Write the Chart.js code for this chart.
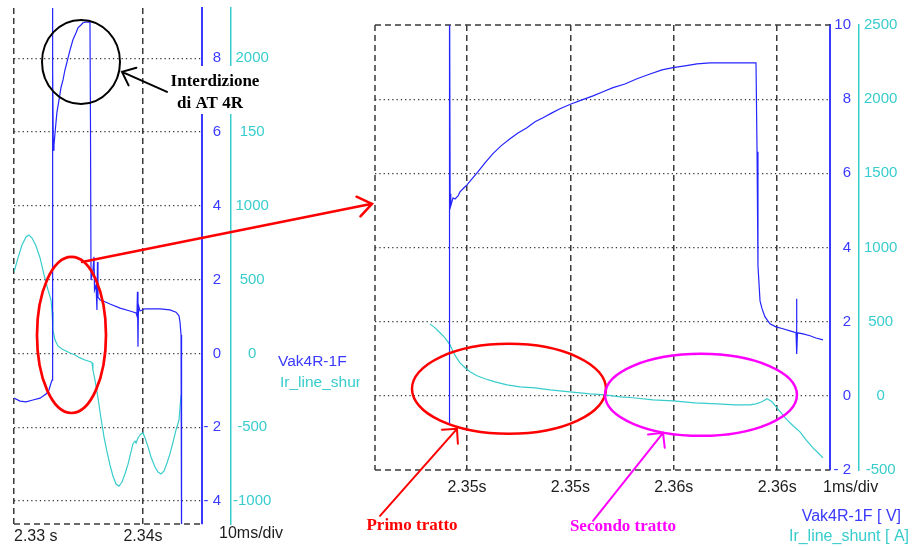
<!DOCTYPE html>
<html>
<head>
<meta charset="utf-8">
<script src="https://cdn.jsdelivr.net/npm/chart.js@4.4.1/dist/chart.umd.min.js"></script>
<style>
  html, body { margin: 0; padding: 0; background: #fff; }
  #wrap { position: relative; width: 914px; height: 547px; overflow: hidden; background: #fff; }
  canvas { position: absolute; top: 0; }
  #cvWide { left: 0; width: 300px; height: 547px; }
  #cvZoom { left: 360px; width: 554px; height: 547px; }
  #cvNotes { left: 0; width: 914px; height: 547px; pointer-events: none; }
</style>
</head>
<body>
<div id="wrap">
  <canvas id="cvWide" width="300" height="547"></canvas>
  <canvas id="cvZoom" width="554" height="547"></canvas>
  <canvas id="cvNotes" width="914" height="547"></canvas>
</div>
<script>
// ---- Series names ----
const seriesNames = ['Vak4R-1F', 'Ir_line_shunt'];
const seriesUnits = ['[ V]', '[ A]'];

// ---- Wide view (10 ms/div): anode-cathode voltage [V] ----
const wideVoltTime = [2.33000, 2.33047, 2.33093, 2.33147, 2.33202, 2.33248, 2.33271, 2.33287, 2.33295, 2.33297,
  2.33302, 2.33305, 2.33310, 2.33318, 2.33333, 2.33349, 2.33364, 2.33380, 2.33395, 2.33419,
  2.33434, 2.33457, 2.33481, 2.33496, 2.33519, 2.33535, 2.33558, 2.33589, 2.33593, 2.33597,
  2.33612, 2.33620, 2.33624, 2.33636, 2.33643, 2.33647, 2.33651, 2.33667, 2.33705, 2.33744,
  2.33822, 2.33899, 2.33946, 2.33953, 2.33957, 2.33961, 2.33965, 2.33977, 2.34016, 2.34054,
  2.34132, 2.34209, 2.34256, 2.34279, 2.34287, 2.34295, 2.34299, 2.34450];
const wideVolt = [-1.21, -1.29, -1.31, -1.26, -1.21, -1.10, -0.99, -0.80, -0.72, 11.5,
  7.68, 5.51, 5.65, 5.98, 6.54, 6.87, 7.20, 7.41, 7.68, 8.01,
  8.22, 8.50, 8.69, 8.82, 8.90, 8.96, 8.98, 8.98, 6.14, 1.99,
  2.26, 2.62, 1.72, 1.86, 1.18, 2.48, 1.53, 1.45, 1.40, 1.34,
  1.23, 1.15, 1.10, 1.02, 1.67, 0.18, 1.31, 1.15, 1.21, 1.21,
  1.21, 1.18, 1.12, 1.02, 0.85, 0.50, -5.6, -5.6];

// ---- Wide view: line shunt current [A] ----
const wideAmpTime = [2.33000, 2.33031, 2.33062, 2.33093, 2.33116, 2.33140, 2.33171, 2.33202, 2.33233, 2.33264,
  2.33287, 2.33295, 2.33302, 2.33318, 2.33341, 2.33372, 2.33403, 2.33434, 2.33473, 2.33512,
  2.33550, 2.33597, 2.33605, 2.33612, 2.33628, 2.33651, 2.33674, 2.33698, 2.33721, 2.33744,
  2.33767, 2.33791, 2.33814, 2.33837, 2.33860, 2.33884, 2.33907, 2.33922, 2.33938, 2.33946,
  2.33961, 2.33984, 2.34000, 2.34016, 2.34039, 2.34062, 2.34093, 2.34116, 2.34140, 2.34163,
  2.34186, 2.34209, 2.34233, 2.34256, 2.34279, 2.34295];
const wideAmp = [552, 647, 735, 789, 803, 782, 728, 647, 532, 430,
  362, 281, 159, 91, 51, 30, 17, 3, -10, -30,
  -44, -58, -64, -112, -180, -301, -437, -566, -667, -755,
  -830, -884, -898, -871, -816, -749, -667, -613, -593, -606,
  -572, -545, -538, -572, -633, -701, -769, -803, -816, -796,
  -742, -680, -600, -518, -451, -281];

// ---- Zoomed view (1 ms/div): anode-cathode voltage [V] ----
const zoomVoltTime = [2.353826, 2.353831, 2.353837, 2.353841, 2.353845, 2.353865, 2.353884, 2.353913, 2.353932, 2.353971,
  2.354000, 2.354048, 2.354097, 2.354174, 2.354251, 2.354329, 2.354416, 2.354493, 2.354580, 2.354658,
  2.354735, 2.354822, 2.354899, 2.355006, 2.355112, 2.355219, 2.355315, 2.355412, 2.355528, 2.355644,
  2.355770, 2.355886, 2.355992, 2.356108, 2.356224, 2.356350, 2.356544, 2.356795, 2.356805, 2.356814,
  2.356834, 2.356853, 2.356882, 2.356930, 2.356988, 2.357056, 2.357124, 2.357182, 2.357186, 2.357191,
  2.357196, 2.357250, 2.357317, 2.357375, 2.357443];
const zoomVolt = [-0.76, 11.5, 5.26, 5.45, 5.12, 5.34, 5.31, 5.39, 5.50, 5.61,
  5.69, 5.85, 6.01, 6.28, 6.53, 6.74, 6.93, 7.09, 7.23, 7.39,
  7.50, 7.63, 7.74, 7.87, 7.98, 8.09, 8.20, 8.31, 8.41, 8.55,
  8.68, 8.79, 8.85, 8.90, 8.95, 8.98, 8.98, 8.98, 6.58, 3.51,
  2.56, 2.35, 2.13, 1.94, 1.86, 1.81, 1.75, 1.70, 2.62, 1.13,
  1.70, 1.67, 1.62, 1.56, 1.51];

// ---- Zoomed view: line shunt current [A] ----
const zoomAmpTime = [2.353642, 2.353691, 2.353739, 2.353787, 2.353836, 2.353865, 2.353894, 2.353932, 2.353981, 2.354029,
  2.354097, 2.354174, 2.354271, 2.354387, 2.354513, 2.354658, 2.354803, 2.354996, 2.355190, 2.355335,
  2.355480, 2.355605, 2.355799, 2.355992, 2.356205, 2.356418, 2.356592, 2.356737, 2.356795, 2.356853,
  2.356901, 2.356950, 2.356998, 2.357046, 2.357095, 2.357153, 2.357220, 2.357279, 2.357346, 2.357395,
  2.357443];
const zoomAmp = [485, 458, 425, 391, 344, 297, 263, 222, 189, 162,
  135, 115, 94, 74, 61, 54, 40, 27, 13, 7,
  -7, -13, -27, -34, -47, -54, -61, -61, -54, -40,
  -20, -40, -81, -121, -162, -202, -243, -297, -351, -384,
  -418];

// ---- Axis ticks and labels ----
const wideTimeTicks = [2.33, 2.34];
const wideTimeLabels = ['2.33 s', '2.34s'];
const zoomTimeTicks = [2.354, 2.355, 2.356, 2.357];
const zoomTimeLabels = ['2.35s', '2.35s', '2.36s', '2.36s'];
const wideVoltTicks = [-4, -2, 0, 2, 4, 6, 8];
const wideVoltLabels = ['- 4', '- 2', '0', '2', '4', '6', '8'];
const wideAmpTicks = [-1000, -500, 0, 500, 1000, 1500, 2000];
const wideAmpLabels = ['-1000', '-500', '0', '500', '1000', '150', '2000'];
const zoomVoltTicks = [-2, 0, 2, 4, 6, 8, 10];
const zoomVoltLabels = ['- 2', '0', '2', '4', '6', '8', '10'];
const zoomAmpTicks = [-500, 0, 500, 1000, 1500, 2000, 2500];
const zoomAmpLabels = ['-500', '0', '500', '1000', '1500', '2000', '2500'];

// ---- Axis ranges ----
const wideTimeRange = [2.33, 2.344574];
const wideVoltRange = [-4.62, 9.36];
const zoomTimeRange = [2.3531103, 2.3575106];
const zoomVoltRange = [-2, 10];
const ampsPerVolt = 250;

// ---- Styling ----
const VOLT = '#2424ff';
const VOLT_AXIS = '#3a3aff';
const AMP = '#38cccc';
const GRID = '#3a3a3a';
const SANS = '"Liberation Sans", Arial, sans-serif';
const SERIF = '"Liberation Serif", "Times New Roman", serif';
Chart.defaults.font.family = SANS;

const pairs = (ts, vs) => ts.map((t, i) => ({ x: t, y: vs[i] }));

// dashed frame on chart-area edges
const framePlugin = {
  id: 'frame',
  beforeDatasetsDraw(chart, args, opts) {
    const { ctx, chartArea: a } = chart;
    ctx.save();
    ctx.strokeStyle = GRID;
    ctx.lineWidth = 1.5;
    ctx.setLineDash([6, 4]);
    opts.edges.forEach(e => {
      ctx.beginPath();
      if (e === 'left') { ctx.moveTo(a.left, a.top); ctx.lineTo(a.left, a.bottom); }
      if (e === 'top') { ctx.moveTo(a.left, a.top); ctx.lineTo(a.right, a.top); }
      if (e === 'bottom') { ctx.moveTo(a.left, a.bottom); ctx.lineTo(a.right, a.bottom); }
      ctx.stroke();
    });
    ctx.restore();
  }
};

// time labels under the grid, plus the time-base note
const timeLabelPlugin = {
  id: 'timeLabels',
  afterDraw(chart, args, opts) {
    const { ctx, chartArea: a } = chart;
    const sx = chart.scales.x;
    ctx.save();
    ctx.font = '16px ' + SANS;
    ctx.fillStyle = '#1e1e1e';
    ctx.textBaseline = 'middle';
    ctx.textAlign = 'left';
    opts.values.forEach((v, i) => {
      const txt = opts.labels[i];
      const w = ctx.measureText(txt).width;
      let x = sx.getPixelForValue(v) - w / 2;
      if (x < a.left) x = a.left;
      ctx.fillText(txt, x, a.bottom + opts.dy);
    });
    ctx.fillText(opts.base, a.right + opts.baseDx, a.bottom + opts.baseDy);
    ctx.restore();
  }
};

function buildScope(canvasId, c) {
  const tickList = vals => scale => { scale.ticks = vals.map(v => ({ value: v })); };
  return new Chart(document.getElementById(canvasId), {
    type: 'line',
    data: {
      datasets: [
        { label: seriesNames[0], data: pairs(c.voltTime, c.volt), yAxisID: 'yV',
          borderColor: VOLT, borderWidth: 1.2, pointRadius: 0, tension: 0, fill: false },
        { label: seriesNames[1], data: pairs(c.ampTime, c.amp), yAxisID: 'yA',
          borderColor: AMP, borderWidth: 1.2, pointRadius: 0, tension: 0, fill: false }
      ]
    },
    options: {
      responsive: false,
      animation: false,
      devicePixelRatio: 1,
      layout: { padding: c.padding },
      plugins: {
        legend: { display: false },
        tooltip: { enabled: false },
        frame: { edges: c.edges },
        timeLabels: { values: c.timeTicks, labels: c.timeLabels, dy: c.labelDy,
                      base: c.base, baseDx: c.baseDx, baseDy: c.baseDy }
      },
      scales: {
        x: {
          type: 'linear', min: c.timeRange[0], max: c.timeRange[1],
          afterBuildTicks: tickList(c.timeTicks),
          afterFit: s => { s.height = c.xAxisHeight; s.paddingLeft = 0; s.paddingRight = 0; },
          ticks: { display: false },
          grid: { color: GRID, lineWidth: 1.5, drawTicks: false },
          border: { display: false, dash: [6, 4] }
        },
        yV: {
          type: 'linear', position: 'right', weight: 0,
          min: c.voltRange[0], max: c.voltRange[1],
          afterBuildTicks: tickList(c.voltTicks),
          afterFit: s => { s.width = c.voltWidth; s.paddingTop = 0; s.paddingBottom = 0; },
          ticks: { color: VOLT_AXIS, font: { size: 15 }, padding: 0, crossAlign: 'far',
                   callback: (v, i) => c.voltLabels[i] },
          grid: {
            drawTicks: false, lineWidth: 1.3,
            color: g => (g.tick && (g.tick.value <= g.scale.min || g.tick.value >= g.scale.max)) ? 'rgba(0,0,0,0)' : GRID
          },
          border: { display: true, color: VOLT_AXIS, width: 2, dash: [1.3, 3] }
        },
        yGap: {
          type: 'linear', position: 'right', weight: 1,
          min: c.voltRange[0], max: c.voltRange[1],
          afterFit: s => { s.width = c.gapWidth; s.paddingTop = 0; s.paddingBottom = 0; },
          ticks: { display: false },
          grid: { display: false, drawTicks: false },
          border: { display: false }
        },
        yA: {
          type: 'linear', position: 'right', weight: 2,
          min: c.voltRange[0] * ampsPerVolt, max: c.voltRange[1] * ampsPerVolt,
          afterBuildTicks: tickList(c.ampTicks),
          afterFit: s => { s.width = 46; s.paddingTop = 0; s.paddingBottom = 0; },
          ticks: { color: AMP, font: { size: 15 }, padding: c.ampPad, crossAlign: 'center',
                   callback: (v, i) => c.ampLabels[i] },
          grid: { display: false, drawTicks: false },
          border: { display: true, color: AMP, width: 1.5 }
        }
      }
    },
    plugins: [framePlugin, timeLabelPlugin]
  });
}

const wideChart = buildScope('cvWide', {
  voltTime: wideVoltTime, volt: wideVolt, ampTime: wideAmpTime, amp: wideAmp,
  timeRange: wideTimeRange, voltRange: wideVoltRange,
  timeTicks: wideTimeTicks, timeLabels: wideTimeLabels,
  voltTicks: wideVoltTicks, voltLabels: wideVoltLabels,
  ampTicks: wideAmpTicks, ampLabels: wideAmpLabels,
  padding: { left: 14, right: 23, top: 8, bottom: 0 }, xAxisHeight: 23,
  voltWidth: 19, gapWidth: 10,
  edges: ['bottom'], ampPad: 2,
  labelDy: 13, base: '10ms/div', baseDx: 17, baseDy: 10
});

const zoomChart = buildScope('cvZoom', {
  voltTime: zoomVoltTime, volt: zoomVolt, ampTime: zoomAmpTime, amp: zoomAmp,
  timeRange: zoomTimeRange, voltRange: zoomVoltRange,
  timeTicks: zoomTimeTicks, timeLabels: zoomTimeLabels,
  voltTicks: zoomVoltTicks, voltLabels: zoomVoltLabels,
  ampTicks: zoomAmpTicks, ampLabels: zoomAmpLabels,
  padding: { left: 15, right: 9, top: 25, bottom: 0 }, xAxisHeight: 77,
  voltWidth: 21, gapWidth: 8,
  edges: ['left', 'top', 'bottom'], ampPad: 5,
  labelDy: 18, base: '1ms/div', baseDx: -7, baseDy: 18
});

// ---- Hand-drawn notes, anchored to (time, volts) on either scope ----
const scopes = { wide: { chart: wideChart, offset: 0 }, zoom: { chart: zoomChart, offset: 360 } };

const highlights = [
  { on: 'wide', t: [2.332171, 2.338217], v: [6.762, 9.038], color: '#000', width: 2 },
  { on: 'wide', t: [2.331783, 2.337132], v: [-1.612, 2.615], color: '#ff0000', width: 2.7 },
  { on: 'zoom', t: [2.353468, 2.355344], v: [-1.025, 1.402], color: '#ff0000', width: 2.5 },
  { on: 'zoom', t: [2.355335, 2.357191], v: [-1.079, 1.133], color: '#ff00ff', width: 2.5 }
];

const pointers = [
  { from: ['wide', 2.341860, 7.087], to: ['wide', 2.338372, 7.629], color: '#000', width: 2, head: 15, spread: 40 },
  { from: ['wide', 2.335271, 2.480], to: ['zoom', 2.353081, 5.178], color: '#ff0000', width: 2.5, head: 17, spread: 36 },
  { from: ['zoom', 2.353159, -3.236], to: ['zoom', 2.353903, -0.890], color: '#ff0000', width: 2, head: 15, spread: 45 },
  { from: ['zoom', 2.355219, -3.371], to: ['zoom', 2.355896, -0.998], color: '#ff00ff', width: 2, head: 15, spread: 45 }
];

const captions = [
  { text: 'Interdizione', x: 215, y: 82, color: '#000' },
  { text: 'di AT 4R', x: 210, y: 104, color: '#000' },
  { text: 'Primo tratto', x: 412, y: 526, color: '#ff0000' },
  { text: 'Secondo tratto', x: 623, y: 527, color: '#ff00ff' }
];

function at(name, t, v) {
  const s = scopes[name];
  return { x: s.offset + s.chart.scales.x.getPixelForValue(t), y: s.chart.scales.yV.getPixelForValue(v) };
}

function drawNotes() {
  const ctx = document.getElementById('cvNotes').getContext('2d');
  ctx.clearRect(0, 0, 914, 547);

  // series names of both scopes
  ctx.save();
  ctx.textBaseline = 'middle';
  ctx.textAlign = 'left';
  ctx.font = '15.5px ' + SANS;
  ctx.beginPath(); ctx.rect(0, 0, 360, 547); ctx.clip();
  ctx.fillStyle = VOLT_AXIS; ctx.fillText(seriesNames[0], 278, 362);
  ctx.fillStyle = AMP; ctx.fillText(seriesNames[1], 280, 383);
  ctx.restore();

  ctx.save();
  ctx.textBaseline = 'middle';
  ctx.textAlign = 'right';
  ctx.font = '16px ' + SANS;
  ctx.fillStyle = VOLT_AXIS; ctx.fillText(seriesNames[0] + ' ' + seriesUnits[0], 901, 517);
  ctx.fillStyle = AMP; ctx.fillText(seriesNames[1] + ' ' + seriesUnits[1], 909, 537);
  ctx.restore();

  // card behind the switch-off note
  ctx.fillStyle = '#fff';
  ctx.fillRect(166, 66, 100, 48);

  ctx.lineCap = 'round';
  highlights.forEach(h => {
    const p0 = at(h.on, h.t[0], h.v[1]);
    const p1 = at(h.on, h.t[1], h.v[0]);
    ctx.beginPath();
    ctx.ellipse((p0.x + p1.x) / 2, (p0.y + p1.y) / 2, Math.abs(p1.x - p0.x) / 2, Math.abs(p1.y - p0.y) / 2, 0, 0, Math.PI * 2);
    ctx.strokeStyle = h.color;
    ctx.lineWidth = h.width;
    ctx.stroke();
  });

  pointers.forEach(p => {
    const a = at(...p.from);
    const b = at(...p.to);
    const ang = Math.atan2(a.y - b.y, a.x - b.x);
    const s = p.spread * Math.PI / 180;
    ctx.strokeStyle = p.color;
    ctx.lineWidth = p.width;
    ctx.beginPath();
    ctx.moveTo(a.x, a.y); ctx.lineTo(b.x, b.y);
    ctx.moveTo(b.x + p.head * Math.cos(ang - s), b.y + p.head * Math.sin(ang - s));
    ctx.lineTo(b.x, b.y);
    ctx.lineTo(b.x + p.head * Math.cos(ang + s), b.y + p.head * Math.sin(ang + s));
    ctx.stroke();
  });

  ctx.textAlign = 'center';
  ctx.textBaseline = 'middle';
  ctx.font = 'bold 17px ' + SERIF;
  captions.forEach(c => { ctx.fillStyle = c.color; ctx.fillText(c.text, c.x, c.y); });
}

drawNotes();
</script>
</body>
</html>
